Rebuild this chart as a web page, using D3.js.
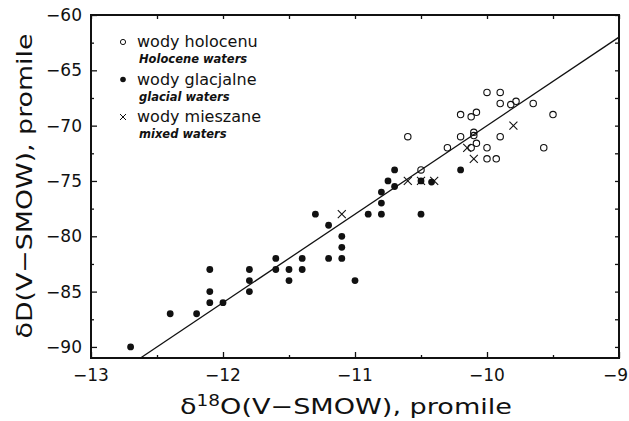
<!DOCTYPE html>
<html>
<head>
<meta charset="utf-8">
<script src="https://cdn.jsdelivr.net/npm/d3@7"></script>
<style>
  body { margin: 0; background: #fff; }
  text { fill: #111; }
</style>
</head>
<body>
<div id="my_dataviz"></div>
<script>
// delta 18O (x) vs delta D (y), permil V-SMOW
var holocene = [
  [-10.6, -71], [-10.5, -74], [-10.3, -72], [-10.2, -69], [-10.2, -71],
  [-10.12, -69.2], [-10.08, -68.8], [-10.1, -70.6], [-10.1, -70.9], [-10.08, -71.6],
  [-10.12, -72], [-10.0, -67], [-9.9, -67], [-9.9, -68], [-9.82, -68.1],
  [-9.78, -67.8], [-9.65, -68], [-9.5, -69], [-9.9, -71], [-10.0, -72],
  [-10.0, -73], [-9.93, -73], [-9.57, -72]
];
var glacial = [
  [-12.7, -90], [-12.4, -87], [-12.2, -87], [-12.1, -83], [-12.1, -85],
  [-12.1, -86], [-12.0, -86], [-11.8, -83], [-11.8, -84], [-11.8, -85],
  [-11.6, -82], [-11.6, -83], [-11.5, -83], [-11.5, -84], [-11.4, -82],
  [-11.4, -83], [-11.3, -78], [-11.2, -79], [-11.2, -82], [-11.1, -80],
  [-11.1, -81], [-11.1, -82], [-11.0, -84], [-10.9, -78], [-10.8, -76],
  [-10.8, -77], [-10.8, -78], [-10.75, -75], [-10.7, -74], [-10.7, -75.5],
  [-10.5, -78], [-10.5, -75], [-10.42, -75.1], [-10.2, -74]
];
var mixed = [
  [-11.1, -78], [-10.6, -75], [-10.5, -75], [-10.4, -75],
  [-10.15, -72], [-10.1, -73], [-9.8, -70]
];
// meteoric water line dD = 8 * d18O + 10
var lineSlope = 8;
var lineIntercept = 10;

var xTicks = [-13, -12, -11, -10, -9];
var yTicks = [-60, -65, -70, -75, -80, -85, -90];
var legendItems = [
  { pl: "wody holocenu", en: "Holocene waters", type: "open" },
  { pl: "wody glacjalne", en: "glacial waters", type: "dot" },
  { pl: "wody mieszane", en: "mixed waters", type: "cross" }
];

var W = 629, H = 421;
var svg = d3.select("#my_dataviz")
  .append("svg")
  .attr("width", W)
  .attr("height", H);

var x = d3.scaleLinear().domain([-13, -9]).range([91, 619]);
var y = d3.scaleLinear().domain([-91, -60]).range([358, 15]);

var font = "DejaVu Sans, sans-serif";

// axes: ticks pointing inward on all four sides
var minorX = d3.range(-12.5, -9, 1);
var minorY = d3.range(-62.5, -91, -5);

function noDomain(g) { g.select(".domain").remove(); }

svg.append("g")
  .attr("transform", "translate(0," + y(-91) + ")")
  .call(d3.axisTop(x).tickValues(xTicks).tickSize(6).tickFormat(""))
  .call(noDomain);
svg.append("g")
  .attr("transform", "translate(0," + y(-91) + ")")
  .call(d3.axisTop(x).tickValues(minorX).tickSize(3).tickFormat(""))
  .call(noDomain);
svg.append("g")
  .attr("transform", "translate(0," + y(-60) + ")")
  .call(d3.axisBottom(x).tickValues(xTicks.concat(minorX)).tickSize(4).tickFormat(""))
  .call(noDomain);
svg.append("g")
  .attr("transform", "translate(" + x(-13) + ",0)")
  .call(d3.axisRight(y).tickValues(yTicks).tickSize(6).tickFormat(""))
  .call(noDomain);
svg.append("g")
  .attr("transform", "translate(" + x(-13) + ",0)")
  .call(d3.axisRight(y).tickValues(minorY).tickSize(3).tickFormat(""))
  .call(noDomain);
svg.append("g")
  .attr("transform", "translate(" + x(-9) + ",0)")
  .call(d3.axisLeft(y).tickValues(yTicks.concat(minorY)).tickSize(4).tickFormat(""))
  .call(noDomain);

svg.selectAll(".tick line").attr("stroke", "#111").attr("stroke-width", 1.3);

// frame
svg.append("rect")
  .attr("x", x(-13))
  .attr("y", y(-60))
  .attr("width", x(-9) - x(-13))
  .attr("height", y(-91) - y(-60))
  .attr("fill", "none")
  .attr("stroke", "#111")
  .attr("stroke-width", 2);

// tick labels (last one pushed in so it stays on the page)
svg.append("g").selectAll("text")
  .data(xTicks)
  .enter()
  .append("text")
  .attr("x", function(d) { return d == -9 ? W - 1 : x(d); })
  .attr("y", 381)
  .attr("text-anchor", function(d) { return d == -9 ? "end" : "middle"; })
  .style("font-family", font)
  .style("font-size", "17px")
  .text(function(d) { return "\u2212" + Math.abs(d); });

svg.append("g").selectAll("text")
  .data(yTicks)
  .enter()
  .append("text")
  .attr("x", 82)
  .attr("y", function(d) { return y(d) + 6; })
  .attr("text-anchor", "end")
  .style("font-family", font)
  .style("font-size", "17px")
  .text(function(d) { return "\u2212" + Math.abs(d); });

// axis titles
var xt = svg.append("text")
  .attr("x", 346)
  .attr("y", 414)
  .attr("text-anchor", "middle")
  .attr("textLength", 332)
  .attr("lengthAdjust", "spacingAndGlyphs")
  .style("font-family", font)
  .style("font-size", "22px");
xt.append("tspan").text("\u03b4");
xt.append("tspan").attr("dy", -8).style("font-size", "15px").text("18");
xt.append("tspan").attr("dy", 8).text("O(V\u2212SMOW), promile");

svg.append("text")
  .attr("transform", "translate(32,186) rotate(-90)")
  .attr("text-anchor", "middle")
  .attr("textLength", 305)
  .attr("lengthAdjust", "spacingAndGlyphs")
  .style("font-family", font)
  .style("font-size", "22px")
  .text("\u03b4D(V\u2212SMOW), promile");

// regression line, clipped to the frame
var x0 = (-91 - lineIntercept) / lineSlope;
svg.append("line")
  .attr("x1", x(x0))
  .attr("y1", y(lineSlope * x0 + lineIntercept))
  .attr("x2", x(-9))
  .attr("y2", y(lineSlope * -9 + lineIntercept))
  .attr("stroke", "#111")
  .attr("stroke-width", 1.3);

// markers
function crossPath(s) {
  return "M" + (-s) + "," + (-s) + "L" + s + "," + s + "M" + (-s) + "," + s + "L" + s + "," + (-s);
}

svg.append("g").selectAll("circle")
  .data(glacial)
  .enter()
  .append("circle")
  .attr("cx", function(d) { return x(d[0]); })
  .attr("cy", function(d) { return y(d[1]); })
  .attr("r", 3.4)
  .attr("fill", "#111");

svg.append("g").selectAll("circle")
  .data(holocene)
  .enter()
  .append("circle")
  .attr("cx", function(d) { return x(d[0]); })
  .attr("cy", function(d) { return y(d[1]); })
  .attr("r", 3.2)
  .attr("fill", "none")
  .attr("stroke", "#111")
  .attr("stroke-width", 1.1);

svg.append("g").selectAll("path")
  .data(mixed)
  .enter()
  .append("path")
  .attr("transform", function(d) { return "translate(" + x(d[0]) + "," + y(d[1]) + ")"; })
  .attr("d", crossPath(4))
  .attr("stroke", "#111")
  .attr("stroke-width", 1.1);

// legend
var leg = svg.append("g").selectAll("g")
  .data(legendItems)
  .enter()
  .append("g")
  .attr("transform", function(d, i) { return "translate(123," + (42 + i * 37.5) + ")"; });

leg.each(function(d) {
  var g = d3.select(this);
  if (d.type == "open") {
    g.append("circle").attr("r", 2.6).attr("fill", "none").attr("stroke", "#111").attr("stroke-width", 1);
  } else if (d.type == "dot") {
    g.append("circle").attr("r", 2.8).attr("fill", "#111");
  } else {
    g.append("path").attr("d", crossPath(3)).attr("stroke", "#111").attr("stroke-width", 1);
  }
});

leg.append("text")
  .attr("x", 14)
  .attr("y", 5)
  .style("font-family", font)
  .style("font-size", "16px")
  .text(function(d) { return d.pl; });

leg.append("text")
  .attr("x", 16)
  .attr("y", 21)
  .style("font-family", font)
  .style("font-size", "11.5px")
  .style("font-weight", "bold")
  .style("font-style", "italic")
  .text(function(d) { return d.en; });
</script>
</body>
</html>
